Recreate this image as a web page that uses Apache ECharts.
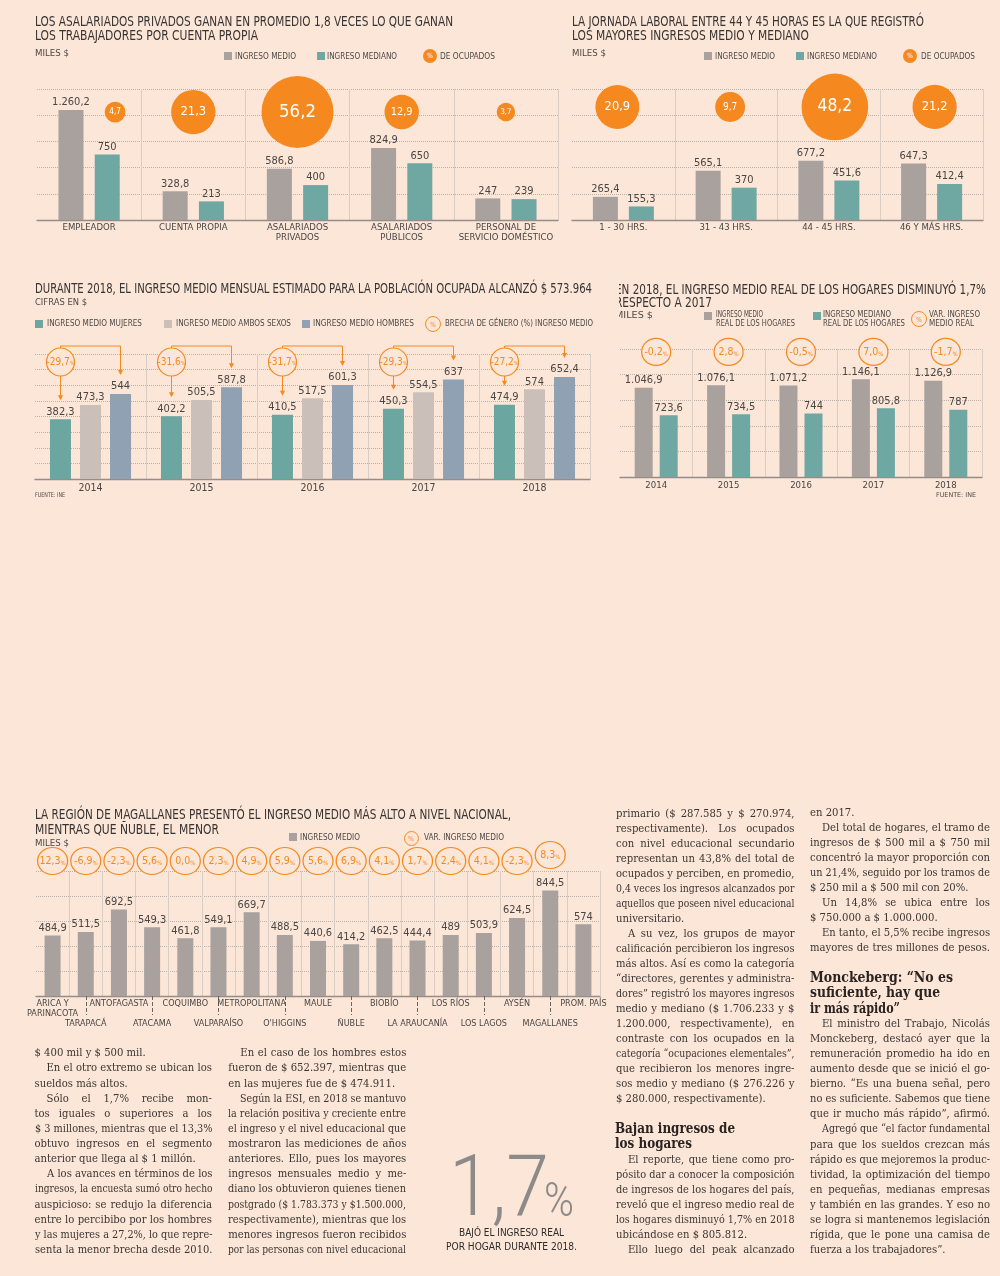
<!DOCTYPE html>
<html><head><meta charset="utf-8">
<script src="https://cdn.jsdelivr.net/npm/echarts@6/dist/echarts.min.js"></script>
<style>
html,body{margin:0;padding:0;background:#fbe6d8;}
#page{position:relative;width:1000px;height:1276px;overflow:hidden;background:#fbe6d8;}
#chart{position:absolute;left:0;top:0;width:1000px;height:1276px;}
#overlay{position:absolute;left:0;top:0;width:1000px;height:1276px;pointer-events:none;}
.t{position:absolute;white-space:nowrap;transform-origin:0 50%;}
.b{position:absolute;}
</style></head><body>
<div id="page"><div id="chart"></div><div id="overlay"></div></div>
<script>
// ---------------- DATA ----------------
const CAT1 = ['EMPLEADOR', 'CUENTA PROPIA', 'ASALARIADOS\nPRIVADOS', 'ASALARIADOS\nPÚBLICOS', 'PERSONAL DE\nSERVICIO DOMÉSTICO'];
const MEDIO1 = [1260.2, 328.8, 586.8, 824.9, 247];
const MEDIANO1 = [750, 213, 400, 650, 239];
const OCUP1 = [4.7, 21.3, 56.2, 12.9, 3.7];

const CAT2 = ['1 - 30 HRS.', '31 - 43 HRS.', '44 - 45 HRS.', '46 Y MÁS HRS.'];
const MEDIO2 = [265.4, 565.1, 677.2, 647.3];
const MEDIANO2 = [155.3, 370, 451.6, 412.4];
const OCUP2 = [20.9, 9.7, 48.2, 21.2];

const YEARS3 = ['2014', '2015', '2016', '2017', '2018'];
const MUJERES3 = [382.3, 402.2, 410.5, 450.3, 474.9];
const AMBOS3 = [473.3, 505.5, 517.5, 554.5, 574];
const HOMBRES3 = [544, 587.8, 601.3, 637, 652.4];
const BRECHA3 = [-29.7, -31.6, -31.7, -29.3, -27.2];

const YEARS4 = ['2014', '2015', '2016', '2017', '2018'];
const MEDIO4 = [1046.9, 1076.1, 1071.2, 1146.1, 1126.9];
const MEDIANO4 = [723.6, 734.5, 744, 805.8, 787];
const VAR4 = [-0.2, 2.8, -0.5, 7.0, -1.7];

const REG5 = ['ARICA Y\nPARINACOTA', 'TARAPACÁ', 'ANTOFAGASTA', 'ATACAMA', 'COQUIMBO', 'VALPARAÍSO', 'METROPOLITANA', "O'HIGGINS", 'MAULE', 'ÑUBLE', 'BIOBÍO', 'LA ARAUCANÍA', 'LOS RÍOS', 'LOS LAGOS', 'AYSÉN', 'MAGALLANES', 'PROM. PAÍS'];
const MEDIO5 = [484.9, 511.5, 692.5, 549.3, 461.8, 549.1, 669.7, 488.5, 440.6, 414.2, 462.5, 444.4, 489, 503.9, 624.5, 844.5, 574];
const VAR5 = [12.3, -6.9, -2.3, 5.6, 0.0, 2.3, 4.9, 5.9, 5.6, 6.9, 4.1, 1.7, 2.4, 4.1, -2.3, 8.3];

// ---------------- STYLE / LAYOUT ----------------
const BG = '#fbe6d8';
const GRAY = '#a9a19d', TEAL = '#6fa7a3', ORANGE = '#f5891f';
const TEAL3 = '#6ba7a0', BEIGE3 = '#cbc0b9', BLUE3 = '#8fa1b2';
const GRID_C = '#bdb0a8', DIV_C = '#dacdc4', BASE_C = '#968d88', LBL_C = '#4a4644';
const SANS_C = "'Liberation Sans Narrow','DejaVu Sans Condensed','Roboto Condensed',Roboto,sans-serif";
const SERIF = "'DejaVu Serif Condensed','Liberation Serif','DejaVu Serif',serif";

const GRIDS = [
  {left: 37, top: 89, width: 521, height: 131},
  {left: 572, top: 89, width: 411, height: 131},
  {left: 35, top: 354, width: 555, height: 125},
  {left: 620, top: 349, width: 362, height: 128},
  {left: 36, top: 871, width: 564, height: 125}
];
const BUB_Y1 = 0.824, BUB_OFF1 = [26, 0, 0, 0, 0];
const BUB_Y2 = 0.863, BUB_OFF2 = [-6, 4, 6, 3];
const RING_Y4 = 0.977, RING_Y5 = 1.08, RING_DY5 = [0,0,0,0,0,0,0,0,0,0,0,0,0,0,0,-6];
const B3_OFF = 30, Y3_MAX = 800;

function fmtNum(v) {
  const neg = v < 0; const a = Math.abs(v);
  const s = Number.isInteger(a) ? String(a) : a.toFixed(1);
  let [ip, dp] = s.split('.');
  ip = ip.replace(/\B(?=(\d{3})+(?!\d))/g, '.');
  return (neg ? '-' : '') + ip + (dp ? ',' + dp : '');
}
function fmtPct(v) { return (v < 0 ? '-' : '') + Math.abs(v).toFixed(1).replace('.', ','); }

function xCat(gi, data, n, extra) {
  const cols = ['rgba(0,0,0,0)']; for (let i = 0; i < n; i++) cols.push(DIV_C);
  return Object.assign({
    type: 'category', gridIndex: gi, data: data, boundaryGap: true,
    axisLine: {show: true, lineStyle: {color: BASE_C, width: 1.3}},
    axisTick: {show: false},
    axisLabel: {color: LBL_C, fontFamily: SANS_C, fontSize: 9.5, lineHeight: 10, margin: 3, interval: 0},
    splitLine: {show: true, interval: 0, lineStyle: {color: cols, width: 1}},
    z: 1
  }, extra || {});
}
function yVal(gi, max, interval) {
  return {type: 'value', gridIndex: gi, min: 0, max: max, interval: interval,
    axisLine: {show: false}, axisTick: {show: false}, axisLabel: {show: false},
    splitLine: {show: true, lineStyle: {color: GRID_C, type: 'dotted', width: 1}}};
}
function yHidden(gi) { return {type: 'value', gridIndex: gi, min: 0, max: 1, show: false, splitLine: {show: false}}; }
function bar(gi, data, color, w, gap, name) {
  return {type: 'bar', name: name, xAxisIndex: gi, yAxisIndex: 2 * gi, data: data, barWidth: w, barGap: gap,
    itemStyle: {color: color}, silent: true, z: 3,
    label: {show: true, position: 'top', distance: 2, color: LBL_C, fontFamily: SANS_C, fontSize: 11,
      formatter: p => fmtNum(p.value)}};
}
function bubbles(gi, vals, yPos, offs) {
  return {type: 'scatter', xAxisIndex: gi, yAxisIndex: 2 * gi + 1, z: 5, silent: true, clip: false,
    data: vals.map((v, i) => {
      const d = 9.6 * Math.sqrt(v);
      return {value: [i, yPos], symbolSize: d, symbolOffset: [offs[i], 0],
        label: {fontSize: 4 + 0.2 * d}};
    }),
    itemStyle: {color: ORANGE, opacity: 1},
    label: {show: true, position: 'inside', color: '#fff', fontFamily: SANS_C,
      formatter: p => fmtPct(vals[p.dataIndex])}};
}
function rings(gi, vals, yPos, size, dys) {
  return {type: 'scatter', xAxisIndex: gi, yAxisIndex: 2 * gi + 1, z: 5, silent: true, clip: false,
    data: vals.map((v, i) => ({value: [i, yPos], symbolOffset: [0, dys ? dys[i] : 0]})),
    symbol: 'circle', symbolSize: size,
    itemStyle: {color: BG, borderColor: ORANGE, borderWidth: 1.2, opacity: 1},
    label: {show: true, position: 'inside',
      formatter: p => '{a|' + fmtPct(vals[p.dataIndex]) + '}{b|%}',
      rich: {a: {color: ORANGE, fontSize: 10.5, fontFamily: SANS_C},
             b: {color: ORANGE, fontSize: 6, fontFamily: SANS_C, padding: [4, 0, 0, 0]}}}};
}

const xAxes = [], yAxes = [], series = [];
// chart 1
xAxes.push(xCat(0, CAT1, 5));
yAxes.push(yVal(0, 1500, 300), yHidden(0));
series.push(bar(0, MEDIO1, GRAY, 25, '45%', 'INGRESO MEDIO'), bar(0, MEDIANO1, TEAL, 25, '45%', 'INGRESO MEDIANO'),
  bubbles(0, OCUP1, BUB_Y1, BUB_OFF1));
// chart 2
xAxes.push(xCat(1, CAT2, 4));
yAxes.push(yVal(1, 1500, 300), yHidden(1));
series.push(bar(1, MEDIO2, GRAY, 25, '44%', 'INGRESO MEDIO'), bar(1, MEDIANO2, TEAL, 25, '44%', 'INGRESO MEDIANO'),
  bubbles(1, OCUP2, BUB_Y2, BUB_OFF2));
// chart 3
xAxes.push(xCat(2, YEARS3, 5, {axisLabel: {color: LBL_C, fontFamily: SANS_C, fontSize: 10.5, margin: 4, interval: 0}}));
yAxes.push(yVal(2, Y3_MAX, 100), yHidden(2));
series.push(bar(2, MUJERES3, TEAL3, 21, '43%', 'INGRESO MEDIO MUJERES'),
  bar(2, AMBOS3, BEIGE3, 21, '43%', 'INGRESO MEDIO AMBOS SEXOS'),
  bar(2, HOMBRES3, BLUE3, 21, '43%', 'INGRESO MEDIO HOMBRES'));
series.push({
  type: 'custom', xAxisIndex: 2, yAxisIndex: 4, z: 6, silent: true,
  data: YEARS3.map((y, i) => [i, MUJERES3[i], HOMBRES3[i], BRECHA3[i]]),
  renderItem: function (params, api) {
    const i = api.value(0);
    const base = api.coord([i, 0]);
    const xM = base[0] - B3_OFF, xH = base[0] + B3_OFF;
    const tipM = api.coord([i, api.value(1)])[1] - 19;
    const tipH = api.coord([i, api.value(2)])[1] - 19;
    const yT = api.coord([i, Y3_MAX])[1] - 8;
    const r = 14, cy = yT + 16;
    const st = {stroke: ORANGE, lineWidth: 1, fill: null};
    const head = (x, y) => ({type: 'polygon', shape: {points: [[x - 2.6, y - 5], [x + 2.6, y - 5], [x, y]]}, style: {fill: ORANGE}});
    return {type: 'group', children: [
      {type: 'polyline', shape: {points: [[xM, cy - r], [xM, yT], [xH, yT], [xH, tipH - 4]]}, style: st},
      {type: 'line', shape: {x1: xM, y1: cy + r, x2: xM, y2: tipM - 4}, style: st},
      head(xH, tipH), head(xM, tipM),
      {type: 'circle', shape: {cx: xM, cy: cy, r: r}, style: {fill: BG, stroke: ORANGE, lineWidth: 1.2}},
      {type: 'text', style: {x: xM, y: cy, align: 'center', verticalAlign: 'middle',
        text: '{a|' + fmtPct(api.value(3)) + '}{b|%}',
        rich: {a: {fill: ORANGE, fontSize: 10, fontFamily: SANS_C}, b: {fill: ORANGE, fontSize: 5.5, fontFamily: SANS_C, padding: [4, 0, 0, 0]}}}}
    ]};
  }
});
// chart 4
xAxes.push(xCat(3, YEARS4, 5, {axisLabel: {color: LBL_C, fontFamily: SANS_C, fontSize: 9.5, margin: 4, interval: 0}}));
yAxes.push(yVal(3, 1500, 300), yHidden(3));
series.push(bar(3, MEDIO4, GRAY, 18, '39%', 'INGRESO MEDIO REAL DE LOS HOGARES'),
  bar(3, MEDIANO4, TEAL, 18, '39%', 'INGRESO MEDIANO REAL DE LOS HOGARES'),
  rings(3, VAR4, RING_Y4, [29, 27]));
// chart 5
xAxes.push(xCat(4, REG5, 17, {
  axisLabel: {color: LBL_C, fontFamily: SANS_C, fontSize: 9, lineHeight: 10, margin: 3, interval: 0,
    formatter: (v, i) => (i % 2 === 1 ? '\n\n' + v : v)},
  axisTick: {show: true, alignWithLabel: true, length: 19, interval: (i) => i % 2 === 1,
    lineStyle: {type: 'dashed', color: '#6a6461', width: 1}}
}));
yAxes.push(yVal(4, 1000, 200), yHidden(4));
series.push(bar(4, MEDIO5, GRAY, 16, '30%', 'INGRESO MEDIO'), rings(4, VAR5, RING_Y5, [30, 27], RING_DY5));

const chart = echarts.init(document.getElementById('chart'), null, {width: 1000, height: 1276});
chart.setOption({
  backgroundColor: 'transparent', animation: false,
  textStyle: {fontFamily: SANS_C},
  grid: GRIDS.map(g => Object.assign({containLabel: false}, g)),
  xAxis: xAxes, yAxis: yAxes, series: series
});

// ---------------- TEXT OVERLAY ----------------
const ov = document.getElementById('overlay');
function mk(s, x, yc, o) {
  o = o || {};
  const d = document.createElement('div');
  d.className = 't';
  d.textContent = s;
  const size = o.size || 10;
  d.style.fontFamily = o.family || SANS_C;
  d.style.fontSize = size + 'px';
  d.style.fontWeight = o.weight || 'normal';
  d.style.color = o.color || '#3a3a3a';
  d.style.lineHeight = (size * 1.25) + 'px';
  d.style.top = (yc - size * 0.625) + 'px';
  d.style.left = x + 'px';
  if (o.ls != null) d.style.letterSpacing = o.ls + 'px';
  (o.parent || ov).appendChild(d);
  const nw = d.getBoundingClientRect().width;
  let sx = 1;
  if (o.w) sx = o.w / nw;
  if (sx !== 1) d.style.transform = 'scaleX(' + sx + ')';
  if (o.center) d.style.left = (x - nw * sx / 2) + 'px';
  return d;
}
function box(x, y, w, h, color) {
  const d = document.createElement('div'); d.className = 'b';
  Object.assign(d.style, {left: x + 'px', top: y + 'px', width: w + 'px', height: h + 'px', background: color});
  ov.appendChild(d);
}
function circ(cx, cy, dw, dh, filled) {
  const d = document.createElement('div'); d.className = 'b';
  Object.assign(d.style, {left: (cx - dw / 2) + 'px', top: (cy - dh / 2) + 'px', width: dw + 'px', height: dh + 'px',
    borderRadius: '50%', boxSizing: 'border-box',
    background: filled ? ORANGE : BG, border: filled ? 'none' : ('1px solid ' + ORANGE),
    color: filled ? '#fff' : ORANGE, fontFamily: SANS_C, fontSize: '7px', lineHeight: dh + 'px', textAlign: 'center'});
  d.textContent = '%';
  ov.appendChild(d);
}
const TIT = '#383433', LEG = '#4d4846';

// chart 1 header
mk('LOS ASALARIADOS PRIVADOS GANAN EN PROMEDIO 1,8 VECES LO QUE GANAN', 35, 21, {size: 13.5, w: 418, color: TIT});
mk('LOS TRABAJADORES POR CUENTA PROPIA', 35, 35.5, {size: 13.5, w: 223, color: TIT});
mk('MILES $', 35, 53, {size: 8.5, w: 34, color: LEG});
box(224, 52, 8, 8, GRAY); mk('INGRESO MEDIO', 235, 56.5, {size: 9, w: 61, color: LEG});
box(317, 52, 8, 8, TEAL); mk('INGRESO MEDIANO', 327, 56.5, {size: 9, w: 70, color: LEG});
circ(430, 56, 14, 14, true); mk('DE OCUPADOS', 440, 56.5, {size: 9, w: 55, color: LEG});

// chart 2 header
mk('LA JORNADA LABORAL ENTRE 44 Y 45 HORAS ES LA QUE REGISTRÓ', 572, 21, {size: 13.5, w: 352, color: TIT});
mk('LOS MAYORES INGRESOS MEDIO Y MEDIANO', 572, 35.5, {size: 13.5, w: 237, color: TIT});
mk('MILES $', 572, 53, {size: 8.5, w: 34, color: LEG});
box(704, 52, 8, 8, GRAY); mk('INGRESO MEDIO', 715, 56.5, {size: 9, w: 60, color: LEG});
box(796, 52, 8, 8, TEAL); mk('INGRESO MEDIANO', 807, 56.5, {size: 9, w: 70, color: LEG});
circ(910, 56, 14, 14, true); mk('DE OCUPADOS', 921, 56.5, {size: 9, w: 54, color: LEG});

// chart 3 header
mk('DURANTE 2018, EL INGRESO MEDIO MENSUAL ESTIMADO PARA LA POBLACIÓN OCUPADA ALCANZÓ $ 573.964', 35, 288, {size: 13.5, w: 557, color: TIT});
mk('CIFRAS EN $', 35, 302, {size: 8.5, w: 52, color: LEG});
box(35, 320, 8, 8, TEAL3); mk('INGRESO MEDIO MUJERES', 47, 324, {size: 9, w: 95, color: LEG});
box(164, 320, 8, 8, BEIGE3); mk('INGRESO MEDIO AMBOS SEXOS', 176, 324, {size: 9, w: 115, color: LEG});
box(302, 320, 8, 8, BLUE3); mk('INGRESO MEDIO HOMBRES', 313, 324, {size: 9, w: 101, color: LEG});
circ(433, 324, 16, 16, false); mk('BRECHA DE GÉNERO (%) INGRESO MEDIO', 445, 324, {size: 9, w: 148, color: LEG});
mk('FUENTE: INE', 35, 495, {size: 6.5, w: 30, color: LEG});

// chart 4 header (cropped on the left as in the page)
const clip4 = document.createElement('div');
Object.assign(clip4.style, {position: 'absolute', left: '619px', top: '270px', width: '381px', height: '60px', overflow: 'hidden'});
ov.appendChild(clip4);
mk('EN 2018, EL INGRESO MEDIO REAL DE LOS HOGARES DISMINUYÓ 1,7%', -4, 19, {size: 13.5, w: 371, color: TIT, parent: clip4});
mk('RESPECTO A 2017', -4, 32, {size: 13.5, w: 97, color: TIT, parent: clip4});
mk('MILES $', -4, 45, {size: 8.5, w: 38, color: LEG, parent: clip4});
box(704, 312, 8, 8, GRAY);
mk('INGRESO MEDIO', 716, 314.5, {size: 9, w: 47, color: LEG});
mk('REAL DE LOS HOGARES', 716, 323.5, {size: 9, w: 79, color: LEG});
box(813, 312, 8, 8, TEAL);
mk('INGRESO MEDIANO', 823, 314.5, {size: 9, w: 68, color: LEG});
mk('REAL DE LOS HOGARES', 823, 323.5, {size: 9, w: 82, color: LEG});
circ(919, 319, 16, 16, false);
mk('VAR. INGRESO', 929, 314.5, {size: 9, w: 51, color: LEG});
mk('MEDIO REAL', 929, 323.5, {size: 9, w: 45, color: LEG});
mk('FUENTE: INE', 936, 495, {size: 6.5, w: 40, color: LEG});

// chart 5 header
mk('LA REGIÓN DE MAGALLANES PRESENTÓ EL INGRESO MEDIO MÁS ALTO A NIVEL NACIONAL,', 35, 814, {size: 13.5, w: 476, color: TIT});
mk('MIENTRAS QUE ÑUBLE, EL MENOR', 35, 829, {size: 13.5, w: 184, color: TIT});
mk('MILES $', 35, 843.5, {size: 8.5, w: 34, color: LEG});
box(289, 833, 8, 8, GRAY); mk('INGRESO MEDIO', 300, 837.5, {size: 9, w: 60, color: LEG});
circ(411, 838, 15, 15, false); mk('VAR. INGRESO MEDIO', 424, 837.5, {size: 9, w: 80, color: LEG});

// big number
mk('1,7', 449, 1186, {size: 86, family: "Roboto,'Open Sans',sans-serif", weight: 300, color: '#8d8b8a', w: 100});
mk('%', 544, 1200, {size: 48, family: "Roboto,'Open Sans',sans-serif", weight: 300, color: '#8d8b8a', w: 30});
mk('BAJÓ EL INGRESO REAL', 511, 1233, {size: 10.5, w: 105, color: '#2f2b2a', center: true});
mk('POR HOGAR DURANTE 2018.', 511, 1246.5, {size: 10.5, w: 131, color: '#2f2b2a', center: true});

// ---------------- ARTICLE ----------------
const TXT_C = '#3b3633', HEAD_C = '#2a2320', SER_SIZE = 11.2, INDENT = 12;
function col(lines, x, y0, lh, w) {
  lines.forEach((raw, k) => {
    let s = raw, ind = 0, just = true;
    if (s.startsWith('»')) { s = s.slice(1); ind = INDENT; }
    if (s.endsWith('¶')) { s = s.slice(0, -1); just = false; }
    const d = mk(s, x + ind, y0 + k * lh, {size: SER_SIZE, family: SERIF, color: TXT_C});
    const nw = d.getBoundingClientRect().width;
    const target = w - ind;
    const sp = (s.match(/ /g) || []).length;
    if (nw > target) d.style.transform = 'scaleX(' + (target / nw) + ')';
    else if (just && sp) d.style.wordSpacing = ((target - nw) / sp) + 'px';
  });
}
function heads(lines, x, ys, ws) {
  lines.forEach((s, k) => mk(s, x, ys[k], {size: 15, family: SERIF, weight: 'bold', color: HEAD_C, w: ws[k]}));
}
col(['$ 400 mil y $ 500 mil.¶',
  '»En el otro extremo se ubican los',
  'sueldos más altos.¶',
  '»Sólo el 1,7% recibe mon-',
  'tos iguales o superiores a los',
  '$ 3 millones, mientras que el 13,3%',
  'obtuvo ingresos en el segmento',
  'anterior que llega al $ 1 millón.¶',
  '»A los avances en términos de los',
  'ingresos, la encuesta sumó otro hecho',
  'auspicioso: se redujo la diferencia',
  'entre lo percibibo por los hombres',
  'y las mujeres a 27,2%, lo que repre-',
  'senta la menor brecha desde 2010.'], 34.5, 1053.3, 15.13, 177.5);
col(['»En el caso de los hombres estos',
  'fueron de $ 652.397, mientras que',
  'en las mujeres fue de $ 474.911.¶',
  '»Según la ESI, en 2018 se mantuvo',
  'la relación positiva y creciente entre',
  'el ingreso y el nivel educacional que',
  'mostraron las mediciones de años',
  'anteriores. Ello, pues los mayores',
  'ingresos mensuales medio y me-',
  'diano los obtuvieron quienes tienen',
  'postgrado ($ 1.783.373 y $1.500.000,',
  'respectivamente), mientras que los',
  'menores ingresos fueron recibidos',
  'por las personas con nivel educacional'], 228.3, 1053.3, 15.13, 178);
col(['primario ($ 287.585 y $ 270.974,',
  'respectivamente). Los ocupados',
  'con nivel educacional secundario',
  'representan un 43,8% del total de',
  'ocupados y perciben, en promedio,',
  '0,4 veces los ingresos alcanzados por',
  'aquellos que poseen nivel educacional',
  'universitario.¶',
  '»A su vez, los grupos de mayor',
  'calificación percibieron los ingresos',
  'más altos. Así es como la categoría',
  '“directores, gerentes y administra-',
  'dores” registró los mayores ingresos',
  'medio y mediano ($ 1.706.233 y $',
  '1.200.000, respectivamente), en',
  'contraste con los ocupados en la',
  'categoría “ocupaciones elementales”,',
  'que recibieron los menores ingre-',
  'sos medio y mediano ($ 276.226 y',
  '$ 280.000, respectivamente).¶'], 616, 813.5, 15.02, 178.5);
heads(['Bajan ingresos de', 'los hogares'], 615, [1128, 1143], [120, 77]);
col(['»El reporte, que tiene como pro-',
  'pósito dar a conocer la composición',
  'de ingresos de los hogares del país,',
  'reveló que el ingreso medio real de',
  'los hogares disminuyó 1,7% en 2018',
  'ubicándose en $ 805.812.¶',
  '»Ello luego del peak alcanzado'], 616, 1160, 15, 178.5);
col(['en 2017.¶',
  '»Del total de hogares, el tramo de',
  'ingresos de $ 500 mil a $ 750 mil',
  'concentró la mayor proporción con',
  'un 21,4%, seguido por los tramos de',
  '$ 250 mil a $ 500 mil con 20%.¶',
  '»Un 14,8% se ubica entre los',
  '$ 750.000 a $ 1.000.000.¶',
  '»En tanto, el 5,5% recibe ingresos',
  'mayores de tres millones de pesos.'], 810, 813, 15, 180);
heads(['Monckeberg: “No es', 'suficiente, hay que', 'ir más rápido”'], 810, [977, 992.5, 1008], [143, 130, 90]);
col(['»El ministro del Trabajo, Nicolás',
  'Monckeberg, destacó ayer que la',
  'remuneración promedio ha ido en',
  'aumento desde que se inició el go-',
  'bierno. “Es una buena señal, pero',
  'no es suficiente. Sabemos que tiene',
  'que ir mucho más rápido”, afirmó.',
  '»Agregó que “el factor fundamental',
  'para que los sueldos crezcan más',
  'rápido es que mejoremos la produc-',
  'tividad, la optimización del tiempo',
  'en pequeñas, medianas empresas',
  'y también en las grandes. Y eso no',
  'se logra si mantenemos legislación',
  'rígida, que le pone una camisa de',
  'fuerza a los trabajadores”.¶'], 810, 1024, 15.07, 180);
</script>
</body></html>
